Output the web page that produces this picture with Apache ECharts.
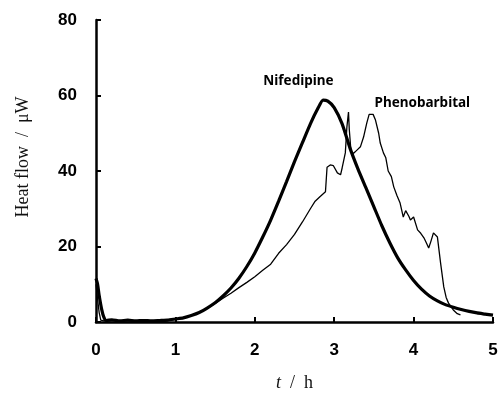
<!DOCTYPE html>
<html>
<head>
<meta charset="utf-8">
<script src="https://cdn.jsdelivr.net/npm/echarts@6/dist/echarts.min.js"></script>
<style>
  html, body { margin: 0; padding: 0; background: #fff; }
  #chart { width: 501px; height: 397px; }
</style>
</head>
<body>
<div id="chart"></div>
<script>
// Isothermal microcalorimetry traces: heat flow (µW) against time (h)
const nifedipineTime = [0, 0.02, 0.04, 0.07, 0.1, 0.13, 0.2, 0.3, 0.4, 0.5,
  0.6, 0.7, 0.8, 0.9, 1.0, 1.1, 1.2, 1.3, 1.4, 1.5,
  1.6, 1.7, 1.8, 1.9, 2.0, 2.1, 2.2, 2.3, 2.4, 2.5,
  2.6, 2.7, 2.8, 2.86, 2.92, 3.0, 3.1, 3.2, 3.3, 3.4,
  3.5, 3.6, 3.7, 3.8, 3.9, 4.0, 4.1, 4.2, 4.3, 4.4,
  4.5, 4.6, 4.7, 4.8, 4.9, 5.0];
const nifedipineFlow = [11.5, 10, 7, 3.5, 1.2, 0.4, 0.6, 0.3, 0.5, 0.3,
  0.4, 0.3, 0.4, 0.5, 0.8, 1.1, 1.7, 2.5, 3.7, 5.1,
  6.9, 9.0, 11.6, 14.7, 18.3, 22.5, 27.0, 32.0, 37.2, 42.5,
  47.5, 52.5, 56.8, 58.8, 58.5, 56.8, 52.5, 46, 40.5, 35.5,
  30.5, 25.5, 21, 17, 13.8, 11, 8.7, 6.9, 5.6, 4.6,
  3.9, 3.3, 2.8, 2.4, 2.1, 1.8];

const phenobarbitalTime = [0, 0.02, 0.04, 0.06, 0.1, 0.3, 0.6, 0.9, 1.0, 1.1,
  1.2, 1.3, 1.4, 1.5, 1.6, 1.7, 1.8, 1.9, 2.0, 2.1,
  2.2, 2.3, 2.4, 2.5, 2.6, 2.7, 2.76, 2.82, 2.89, 2.91,
  2.95, 2.99, 3.04, 3.08, 3.1, 3.14, 3.16, 3.18, 3.19, 3.21,
  3.23, 3.26, 3.29, 3.33, 3.37, 3.41, 3.44, 3.46, 3.49, 3.52,
  3.56, 3.58, 3.62, 3.65, 3.68, 3.72, 3.75, 3.79, 3.83, 3.87,
  3.9, 3.92, 3.94, 3.96, 4.0, 4.02, 4.05, 4.09, 4.13, 4.16,
  4.19, 4.22, 4.25, 4.27, 4.3, 4.34, 4.38, 4.41, 4.44, 4.5,
  4.55, 4.59];
const phenobarbitalFlow = [10, 6, 2.5, 0.5, 0.3, 0.3, 0.3, 0.4, 0.7, 1.1,
  1.7, 2.5, 3.6, 4.9, 6.3, 7.6, 9.1, 10.5, 12, 13.7,
  15.3, 18.2, 20.5, 23.2, 26.5, 30, 32, 33.2, 34.5, 41,
  41.6, 41.4, 39.5, 39, 40.8, 44.8, 51.7, 55.6, 51, 45.6,
  44.5, 45, 45.6, 46.4, 49, 52.7, 55, 54.8, 55, 53.5,
  50, 47.4, 44.8, 43.5, 40, 38.5, 35.8, 33.5, 31.5, 27.8,
  29.5, 30, 28, 27, 27.8, 27.3, 24.4, 23.5, 22.3, 21,
  19.6, 21.5, 23.6, 23.3, 22.5, 15.6, 9.3, 6.5, 5, 3.2,
  2.2, 1.9];

// Axis ranges and curve captions (caption anchors in data units)
const timeTicks = [0, 1, 2, 3, 4, 5];
const flowTicks = [0, 20, 40, 60, 80];
const nifedipineCaption = { text: 'Nifedipine', at: [2.55, 63.8] };
const phenobarbitalCaption = { text: 'Phenobarbital', at: [4.11, 58] };

const zip = (xs, ys) => xs.map((x, i) => [x, ys[i]]);

const captionStyle = {
  fontFamily: 'Noto Sans', fontWeight: 'bold', fontSize: 13.5, color: '#000'
};

const chart = echarts.init(document.getElementById('chart'), null, { renderer: 'canvas' });

chart.setOption({
  animation: false,
  backgroundColor: '#fff',
  grid: { left: 96, right: 8, top: 20, bottom: 75, containLabel: false },
  xAxis: {
    type: 'value',
    min: timeTicks[0],
    max: timeTicks[timeTicks.length - 1],
    interval: 1,
    name: '{i|t}\u00a0\u00a0/\u00a0\u00a0h',
    nameLocation: 'middle',
    nameGap: 52,
    nameTextStyle: {
      fontFamily: 'Liberation Serif', fontSize: 18, color: '#111',
      rich: { i: { fontFamily: 'Liberation Serif', fontStyle: 'italic', fontSize: 18, color: '#111' } }
    },
    axisLine: { lineStyle: { color: '#000', width: 2.5 } },
    axisTick: { inside: true, length: 5, lineStyle: { color: '#000', width: 2 } },
    axisLabel: { margin: 20, fontFamily: 'Liberation Sans', fontWeight: 'bold', fontSize: 17, color: '#000' },
    splitLine: { show: false }
  },
  yAxis: {
    type: 'value',
    min: flowTicks[0],
    max: flowTicks[flowTicks.length - 1],
    interval: 20,
    name: 'Heat flow\u00a0\u00a0/\u00a0\u00a0μW',
    nameLocation: 'middle',
    nameGap: 64,
    nameTextStyle: {
      fontFamily: 'Liberation Serif', fontSize: 18, color: '#111',
      padding: [0, 0, 0, 28]
    },
    axisLine: { lineStyle: { color: '#000', width: 2.5 } },
    axisTick: { inside: true, length: 5, lineStyle: { color: '#000', width: 2 } },
    axisLabel: { margin: 19, fontFamily: 'Liberation Sans', fontWeight: 'bold', fontSize: 17, color: '#000' },
    splitLine: { show: false }
  },
  series: [
    {
      name: 'Phenobarbital',
      type: 'line',
      data: zip(phenobarbitalTime, phenobarbitalFlow),
      showSymbol: false,
      lineStyle: { color: '#000', width: 1.3 },
      z: 3,
      markPoint: {
        symbol: 'circle', symbolSize: 0,
        label: { show: true, position: 'inside', formatter: phenobarbitalCaption.text, ...captionStyle },
        data: [{ coord: phenobarbitalCaption.at }]
      }
    },
    {
      name: 'Nifedipine',
      type: 'line',
      data: zip(nifedipineTime, nifedipineFlow),
      showSymbol: false,
      smooth: 0.2,
      lineStyle: { color: '#000', width: 3.2 },
      z: 2,
      markPoint: {
        symbol: 'circle', symbolSize: 0,
        label: { show: true, position: 'inside', formatter: nifedipineCaption.text, ...captionStyle },
        data: [{ coord: nifedipineCaption.at }]
      }
    }
  ]
});
</script>
</body>
</html>
